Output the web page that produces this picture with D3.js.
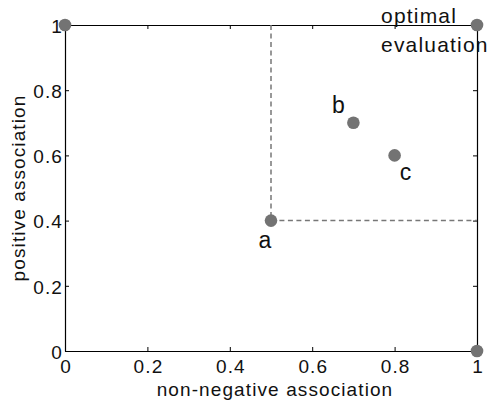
<!DOCTYPE html>
<html><head><meta charset="utf-8">
<script src="https://cdn.jsdelivr.net/npm/d3@7"></script>
<style>
body{margin:0;background:#fff;}
text{font-family:"Liberation Sans",Arial,Helvetica,sans-serif;fill:#111;}
</style></head>
<body><svg id="c" width="495" height="403"></svg>
<script>
const xTicks = [0, 0.2, 0.4, 0.6, 0.8, 1];
const yTicks = [0, 0.2, 0.4, 0.6, 0.8, 1];
const tickLabels = ["0", "0.2", "0.4", "0.6", "0.8", "1"];
const pointNames = ["", "optimal", "", "a", "b", "c"];
const pointX = [0, 1, 1, 0.5, 0.7, 0.8];
const pointY = [1, 1, 0, 0.4, 0.7, 0.6];
const guideX = [0.5, 0.5, 1];
const guideY = [1, 0.4, 0.4];

const svg = d3.select("#c");
const L = 65, R = 477, T = 25, B = 351;
const x = d3.scaleLinear().domain([0, 1]).range([L, R]);
const y = d3.scaleLinear().domain([0, 1]).range([B, T]);
const fs = 19, ls = 1.1;

const gB = svg.append("g").attr("transform", `translate(0,${B})`)
  .call(d3.axisBottom(x).tickValues(xTicks).tickFormat(d => tickLabels[xTicks.indexOf(d)]).tickSizeInner(-4).tickSizeOuter(0));
const gT = svg.append("g").attr("transform", `translate(0,${T})`)
  .call(d3.axisTop(x).tickValues(xTicks).tickFormat("").tickSizeInner(-4).tickSizeOuter(0));
const gL = svg.append("g").attr("transform", `translate(${L},0)`)
  .call(d3.axisLeft(y).tickValues(yTicks).tickFormat(d => tickLabels[yTicks.indexOf(d)]).tickSizeInner(-4).tickSizeOuter(0));
const gR = svg.append("g").attr("transform", `translate(${R},0)`)
  .call(d3.axisRight(y).tickValues(yTicks).tickFormat("").tickSizeInner(-4).tickSizeOuter(0));
[gB, gT, gL, gR].forEach(g => {
  g.select(".domain").attr("stroke", "#000").attr("stroke-width", 1.2);
  g.selectAll(".tick line").attr("stroke", "#000");
  g.selectAll(".tick text").attr("font-size", fs).attr("letter-spacing", ls)
    .attr("font-family", '"Liberation Sans",Arial,sans-serif').attr("fill", "#111");
});
gB.selectAll(".tick text").attr("dy", null).attr("y", 22).attr("dx", ls / 2);
gL.selectAll(".tick text").attr("x", -2).attr("dy", "0.38em");

// dashed guides
const line = d3.line().x((d, i) => x(guideX[i])).y((d, i) => y(guideY[i]));
svg.append("path").datum(guideX).attr("d", line)
  .attr("fill", "none").attr("stroke", "#777").attr("stroke-width", 1.5).attr("stroke-dasharray", "5,3.5");

// points
svg.selectAll("circle.p").data(pointX).enter().append("circle")
  .attr("class", "p").attr("cx", d => x(d)).attr("cy", (d, i) => y(pointY[i]))
  .attr("r", 6.3).attr("fill", "#737373");

// labels
const lbl = (t, px, py, anchor, size, spacing) => svg.append("text").attr("x", px).attr("y", py)
  .attr("font-size", size).attr("letter-spacing", spacing).attr("text-anchor", anchor).text(t);
lbl(pointNames[3], x(pointX[3]) - 6, y(pointY[3]) + 27, "middle", 23, 0);
lbl(pointNames[4], x(pointX[4]) - 15, y(pointY[4]) - 10, "middle", 23, 0);
lbl(pointNames[5], x(pointX[5]) + 11, y(pointY[5]) + 25, "middle", 23, 0);
lbl(pointNames[1], x(pointX[1]) - 96, y(pointY[1]) - 2, "start", 21, 1.2);
lbl("evaluation", x(pointX[1]) - 96, y(pointY[1]) + 27, "start", 21, 1.2);

// axis titles
svg.append("text").attr("x", (L + R) / 2 + 4).attr("y", 396).attr("text-anchor", "middle")
  .attr("font-size", fs).attr("letter-spacing", ls).text("non-negative association");
svg.append("text").attr("transform", `translate(25,${(T + B) / 2}) rotate(-90)`).attr("text-anchor", "middle")
  .attr("font-size", fs).attr("letter-spacing", ls).text("positive association");
</script></body></html>
